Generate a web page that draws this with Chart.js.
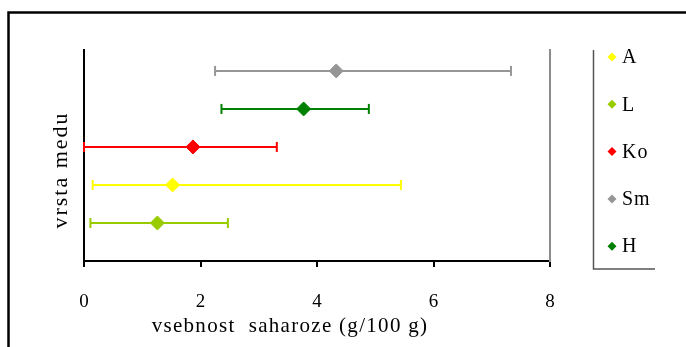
<!DOCTYPE html>
<html>
<head>
<meta charset="utf-8">
<script src="https://cdn.jsdelivr.net/npm/chart.js@4/dist/chart.umd.min.js"></script>
<style>
  html, body { margin: 0; padding: 0; background: #fff; }
  canvas { display: block; }
</style>
</head>
<body>
<canvas id="c" width="686" height="347"></canvas>
<script>
// Honey types, their row on the category axis, and sucrose content (g/100 g)
const series = ['A', 'L', 'Ko', 'Sm', 'H'];
const colors = ['#FFFF00', '#99CC00', '#FF0000', '#969696', '#008000'];
const rows   = [2, 1, 3, 5, 4];
const means  = [1.52, 1.26, 1.87, 4.33, 3.77];
const lows   = [0.15, 0.11, 0.00, 2.25, 2.36];
const highs  = [5.44, 2.47, 3.31, 7.33, 4.89];
const xTicks = [0, 2, 4, 6, 8];

const xTitle = 'vsebnost  saharoze (g/100 g)';
const yTitle = 'vrsta medu';
const serif = '"Liberation Serif", "Times New Roman", serif';

const datasets = [];
series.forEach((name, i) => {
  // range line with vertical end caps
  datasets.push({
    label: name + ' range',
    data: [{ x: lows[i], y: rows[i] }, { x: highs[i], y: rows[i] }],
    showLine: true,
    borderColor: colors[i],
    backgroundColor: colors[i],
    borderWidth: 2,
    pointStyle: 'line',
    rotation: 90,
    pointRadius: 5,
    pointBorderWidth: 2,
    pointHoverRadius: 5,
    clip: false
  });
  // mean marker
  datasets.push({
    label: name,
    data: [{ x: means[i], y: rows[i] }],
    showLine: false,
    borderColor: colors[i],
    backgroundColor: colors[i],
    pointStyle: 'rectRot',
    pointRadius: 7,
    pointBorderWidth: 1,
    clip: false
  });
});

const decor = {
  id: 'decor',
  beforeDraw(chart) {
    const ctx = chart.ctx;
    ctx.save();
    ctx.fillStyle = '#fff';
    ctx.fillRect(0, 0, chart.width, chart.height);
    // outer frame
    ctx.strokeStyle = '#000';
    ctx.lineWidth = 2.5;
    ctx.strokeRect(8.5, 12.5, 800, 500);
    ctx.restore();
  },
  afterDraw(chart) {
    const ctx = chart.ctx;
    ctx.save();
    ctx.fillStyle = '#000';
    // x axis title
    ctx.font = '21px ' + serif;
    ctx.letterSpacing = '1.3px';
    ctx.textAlign = 'center';
    ctx.textBaseline = 'middle';
    ctx.fillText(xTitle, 290, 326);
    // y axis title
    ctx.save();
    ctx.translate(61, 170);
    ctx.rotate(-Math.PI / 2);
    ctx.font = '22px ' + serif;
    ctx.letterSpacing = '2px';
    ctx.fillText(yTitle, 0, 0);
    ctx.restore();
    // legend box
    const lx = 593.5, ltop = 50, lbottom = 269, lright = 655;
    ctx.strokeStyle = '#555';
    ctx.lineWidth = 1.5;
    ctx.beginPath();
    ctx.moveTo(lx, ltop);
    ctx.lineTo(lx, lbottom);
    ctx.lineTo(lright, lbottom);
    ctx.stroke();
    // legend entries
    ctx.font = '20px ' + serif;
    ctx.letterSpacing = '1px';
    ctx.textAlign = 'left';
    ctx.textBaseline = 'middle';
    series.forEach((name, i) => {
      const y = 57 + i * 47.3;
      const x = 612;
      ctx.fillStyle = colors[i];
      ctx.beginPath();
      ctx.moveTo(x, y - 4.5);
      ctx.lineTo(x + 4.5, y);
      ctx.lineTo(x, y + 4.5);
      ctx.lineTo(x - 4.5, y);
      ctx.closePath();
      ctx.fill();
      ctx.fillStyle = '#000';
      ctx.fillText(name, 622, y + 1);
    });
    ctx.restore();
  }
};

new Chart(document.getElementById('c'), {
  type: 'scatter',
  data: { datasets },
  options: {
    responsive: false,
    animation: false,
    devicePixelRatio: 1,
    layout: { padding: { top: 50, left: 0, right: 0, bottom: 0 } },
    plugins: {
      legend: { display: false },
      tooltip: { enabled: false }
    },
    scales: {
      x: {
        type: 'linear',
        min: 0,
        max: 8,
        afterBuildTicks: s => { s.ticks = xTicks.map(v => ({ value: v })); },
        afterFit: s => { s.height = 86; },
        ticks: {
          color: '#000',
          font: { family: serif, size: 19 },
          padding: 24,
          maxRotation: 0
        },
        grid: {
          drawOnChartArea: false,
          drawTicks: true,
          tickLength: 6,
          tickColor: '#000',
          lineWidth: 2
        },
        border: { color: '#000', width: 2 }
      },
      y: {
        type: 'linear',
        position: 'left',
        min: 0,
        max: 5.55,
        afterFit: s => { s.width = 84; },
        ticks: { display: false },
        grid: { display: false },
        border: { color: '#000', width: 2 }
      },
      y2: {
        type: 'linear',
        position: 'right',
        min: 0,
        max: 5.55,
        afterFit: s => { s.width = 136; },
        ticks: { display: false },
        grid: { display: false },
        border: { color: '#8c8c8c', width: 2 }
      }
    }
  },
  plugins: [decor]
});
</script>
</body>
</html>
